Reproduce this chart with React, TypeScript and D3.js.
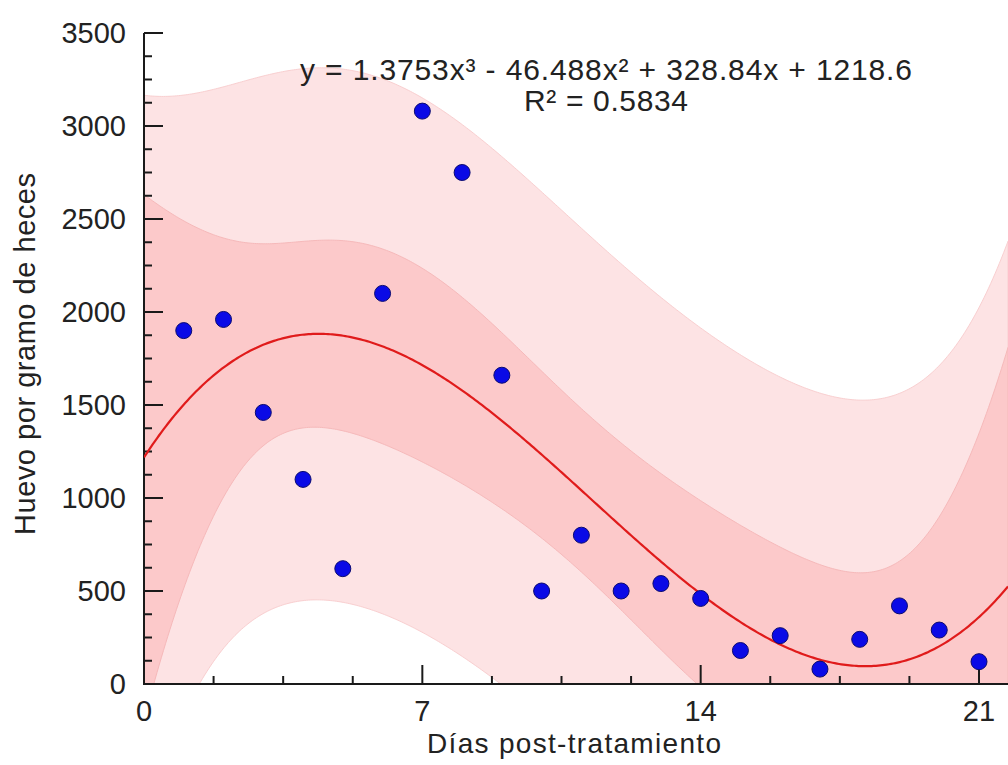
import React from 'react';
import * as d3 from 'd3';

// days post-treatment and eggs per gram of faeces
const days = [1, 2, 3, 4, 5, 6, 7, 8, 9, 10, 11, 12, 13, 14, 15, 16, 17, 18, 19, 20, 21];
const eggs = [1900, 1960, 1460, 1100, 620, 2100, 3080, 2750, 1660, 500, 800, 500, 540, 460, 180, 260, 80, 240, 420, 290, 120];

// printed trendline: c0 + c1 x + c2 x^2 + c3 x^3
const coefs = [1218.6, 328.84, -46.488, 1.3753];
const xTicks = [0, 7, 14, 21];
const yTicks = [0, 500, 1000, 1500, 2000, 2500, 3000, 3500];
const eqText = 'y = 1.3753x³ - 46.488x² + 328.84x + 1218.6';
const r2Text = 'R² = 0.5834';
const T_975_17 = 2.1098;

const W = 1008;
const H = 765;
const left = 144;
const bottom = 684;
const top = 33;

const invert = (m: number[][]) => {
  const n = m.length;
  const a = m.map((row, i) => [...row, ...row.map((_, j) => (i === j ? 1 : 0))]);
  for (let c = 0; c < n; c++) {
    let p = c;
    for (let r = c + 1; r < n; r++) if (Math.abs(a[r][c]) > Math.abs(a[p][c])) p = r;
    [a[c], a[p]] = [a[p], a[c]];
    const d = a[c][c];
    for (let k = 0; k < 2 * n; k++) a[c][k] /= d;
    for (let r = 0; r < n; r++) {
      if (r === c) continue;
      const f = a[r][c];
      for (let k = 0; k < 2 * n; k++) a[r][k] -= f * a[c][k];
    }
  }
  return a.map(row => row.slice(n));
};

const basis = (x: number) => [1, x, x * x, x * x * x];
const fit = (x: number) => basis(x).reduce((s, b, i) => s + b * coefs[i], 0);

// regression statistics for the confidence / prediction bands
const XtX = [0, 1, 2, 3].map(i => [0, 1, 2, 3].map(j => d3.sum(days, d => basis(d)[i] * basis(d)[j])));
const XtXinv = invert(XtX);
const sse = d3.sum(days, (d, i) => (eggs[i] - fit(d)) ** 2);
const s = Math.sqrt(sse / (days.length - 4));
const lev = (x: number) => {
  const b = basis(x);
  let v = 0;
  for (let i = 0; i < 4; i++) for (let j = 0; j < 4; j++) v += b[i] * XtXinv[i][j] * b[j];
  return v;
};

export default function App() {
  const x = d3.scaleLinear().domain([0, 21]).range([left, 979]);
  const y = d3.scaleLinear().domain([0, 3500]).range([bottom, top]);
  const xMax = x.invert(W);

  const grid = d3.range(0, 400).map(i => (i / 399) * xMax);
  const band = (k: number) =>
    grid.map(g => {
      const hw = T_975_17 * s * Math.sqrt(k + lev(g));
      return { g, lo: fit(g) - hw, hi: fit(g) + hw };
    });
  const area = d3
    .area<{ g: number; lo: number; hi: number }>()
    .x(d => x(d.g))
    .y0(d => y(d.lo))
    .y1(d => y(d.hi));
  const line = d3
    .line<number>()
    .x(g => x(g))
    .y(g => y(fit(g)));

  const xMinor = d3.range(0, xMax, 1.75).filter(v => !xTicks.includes(v));
  const yMinor = d3.range(0, 3501, 125).filter(v => v % 500 !== 0);
  const font = 'Liberation Sans, Arial, sans-serif';

  return (
    <svg width={W} height={H} style={{ position: 'absolute', left: 0, top: 0, background: '#fff' }}>
      <defs>
        <clipPath id="plot">
          <rect x={left} y={top} width={W - left} height={bottom - top} />
        </clipPath>
      </defs>
      <g clipPath="url(#plot)">
        <path d={area(band(1)) || ''} fill="#fde3e4" stroke="#f9cfd0" strokeWidth={1} />
        <path d={area(band(0)) || ''} fill="#fcc9ca" stroke="#f6b9ba" strokeWidth={1} />
      </g>

      {/* axes */}
      <g stroke="#1a1a1a" strokeWidth={2}>
        <line x1={left} x2={left} y1={top} y2={bottom + 1} />
        <line x1={left - 1} x2={W} y1={bottom} y2={bottom} />
        {yTicks.map(t => (
          <line key={'ym' + t} x1={left} x2={left + 19} y1={y(t)} y2={y(t)} />
        ))}
        {yMinor.map(t => (
          <line key={'yn' + t} x1={left} x2={left + 8} y1={y(t)} y2={y(t)} />
        ))}
        {xTicks.map(t => (
          <line key={'xm' + t} x1={x(t)} x2={x(t)} y1={bottom} y2={bottom - 19} />
        ))}
        {xMinor.map(t => (
          <line key={'xn' + t} x1={x(t)} x2={x(t)} y1={bottom} y2={bottom - 8} />
        ))}
      </g>

      <g clipPath="url(#plot)">
        <path d={line(grid) || ''} fill="none" stroke="#e01b1b" strokeWidth={2.2} />
      </g>

      {days.map((d, i) => (
        <circle key={d} cx={x(d)} cy={y(eggs[i])} r={8} fill="#0a0ae6" stroke="#0a0a70" strokeWidth={1} />
      ))}

      <g fontFamily={font} fontSize={29} fill="#222">
        {yTicks.map(t => (
          <text key={t} x={126} y={y(t)} dy="0.36em" textAnchor="end">
            {t}
          </text>
        ))}
        {xTicks.map(t => (
          <text key={t} x={x(t)} y={721} textAnchor="middle">
            {t}
          </text>
        ))}
      </g>

      <g fontFamily={font} fill="#222" textAnchor="middle">
        <text x={574} y={753} fontSize={28} textLength={294}>
          Días post-tratamiento
        </text>
        <text transform="translate(35,354) rotate(-90)" fontSize={29} textLength={362}>
          Huevo por gramo de heces
        </text>
        <text x={606} y={80} fontSize={30} textLength={612}>
          {eqText}
        </text>
        <text x={606} y={111} fontSize={30} textLength={164}>
          {r2Text}
        </text>
      </g>
    </svg>
  );
}
